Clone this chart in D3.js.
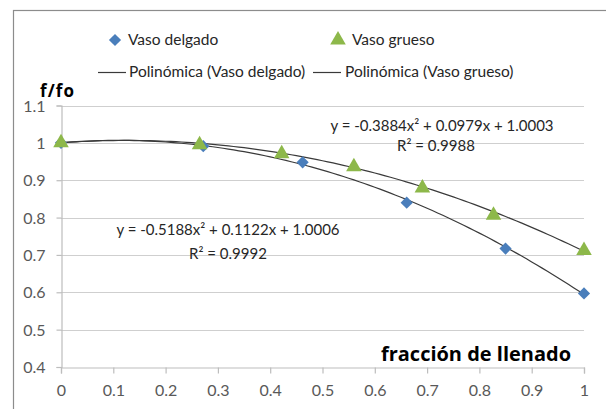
<!DOCTYPE html>
<html>
<head>
<meta charset="utf-8">
<script src="https://cdn.jsdelivr.net/npm/d3@7/dist/d3.min.js"></script>
<style>
  html, body { margin: 0; padding: 0; background: #fff; }
  svg { display: block; font-family: Lato, "Liberation Sans", sans-serif; }
</style>
</head>
<body>
<svg id="chart" width="606" height="409"></svg>
<script>
// Relative frequency f/fo against filling fraction, two vessel thicknesses
const delgadoX = [0, 0.272, 0.462, 0.661, 0.850, 1.0];
const delgadoY = [1.0, 0.991, 0.948, 0.840, 0.717, 0.597];
const gruesoX = [0, 0.265, 0.422, 0.560, 0.691, 0.827, 1.0];
const gruesoY = [1.0, 0.995, 0.971, 0.936, 0.879, 0.806, 0.712];

// Quadratic trendline coefficients [a, b, c] for y = a x^2 + b x + c
const delgadoFit = [-0.5188, 0.1122, 1.0006];
const gruesoFit = [-0.3884, 0.0979, 1.0003];
const delgadoEq = "y = -0.5188x² + 0.1122x + 1.0006";
const delgadoR2 = "R² = 0.9992";
const gruesoEq = "y = -0.3884x² + 0.0979x + 1.0003";
const gruesoR2 = "R² = 0.9988";

const xTicks = [0, 0.1, 0.2, 0.3, 0.4, 0.5, 0.6, 0.7, 0.8, 0.9, 1];
const yTicks = [0.4, 0.5, 0.6, 0.7, 0.8, 0.9, 1, 1.1];
const legendLabels = ["Vaso delgado", "Vaso grueso", "Polinómica (Vaso delgado)", "Polinómica (Vaso grueso)"];
const yTitle = "f/fo";
const xTitle = "fracción de llenado";

const blue = "#4a7ebb";
const green = "#8db84a";

const svg = d3.select("#chart");

// chart frame
svg.append("rect")
  .attr("x", 13.5).attr("y", 10.5).attr("width", 700).attr("height", 500)
  .attr("fill", "#fff").attr("stroke", "#8c8c8c").attr("stroke-width", 1.2);

const x = d3.scaleLinear().domain([0, 1]).range([61, 584]);
const y = d3.scaleLinear().domain([0.4, 1.1]).range([367, 105.5]);

// horizontal gridlines
svg.append("g")
  .selectAll("line")
  .data(yTicks.filter(d => d > 0.4))
  .join("line")
  .attr("x1", x(0)).attr("x2", x(1))
  .attr("y1", d => Math.round(y(d)) + 0.5).attr("y2", d => Math.round(y(d)) + 0.5)
  .attr("stroke", "#cfcfcf").attr("stroke-width", 1.2);

// axes
const fmt = d => String(+d.toFixed(1));
const xAxis = svg.append("g")
  .attr("transform", `translate(0,${Math.round(y(0.4)) + 0.5})`)
  .call(d3.axisBottom(x).tickValues(xTicks).tickSize(6).tickPadding(11).tickFormat(fmt));
const yAxis = svg.append("g")
  .attr("transform", `translate(${Math.round(x(0)) + 0.5},0)`)
  .call(d3.axisLeft(y).tickValues(yTicks).tickSize(5).tickPadding(11).tickFormat(fmt));
[xAxis, yAxis].forEach(g => {
  g.select(".domain").attr("stroke", "#bdbdbd").attr("stroke-width", 1.2);
  g.selectAll(".tick line").attr("stroke", "#bdbdbd").attr("stroke-width", 1.2);
  g.selectAll(".tick text").attr("fill", "#595959")
    .style("font-family", "Lato, sans-serif").style("font-size", "16px");
});
yAxis.selectAll(".tick text").attr("dy", "0.35em");

// trendlines
const poly = (c, t) => c[0] * t * t + c[1] * t + c[2];
const samples = d3.range(0, 1.0001, 0.01);
[delgadoFit, gruesoFit].forEach(c => {
  svg.append("path")
    .attr("d", d3.line().x(t => x(t)).y(t => y(poly(c, t)))(samples))
    .attr("fill", "none").attr("stroke", "#3a3a3a").attr("stroke-width", 1.2);
});

// markers
const diamond = d3.symbol().type(d3.symbolDiamond2).size(95);
const triangle = d3.symbol().type(d3.symbolTriangle).size(105);
svg.append("g").selectAll("path")
  .data(d3.zip(delgadoX, delgadoY))
  .join("path")
  .attr("d", diamond)
  .attr("transform", d => `translate(${x(d[0])},${y(d[1])})`)
  .attr("fill", blue);
svg.append("g").selectAll("path")
  .data(d3.zip(gruesoX, gruesoY))
  .join("path")
  .attr("d", triangle)
  .attr("transform", d => `translate(${x(d[0])},${y(d[1])})`)
  .attr("fill", green);

// trendline equations
const eqStyle = s => s.attr("fill", "#262626").style("font-size", "15px").attr("text-anchor", "middle");
svg.append("text").attr("x", 442).attr("y", 131).text(gruesoEq).call(eqStyle);
svg.append("text").attr("x", 436).attr("y", 151).text(gruesoR2).call(eqStyle);
svg.append("text").attr("x", 228).attr("y", 235).text(delgadoEq).call(eqStyle);
svg.append("text").attr("x", 228).attr("y", 259).text(delgadoR2).call(eqStyle);

// axis titles
svg.append("text").attr("x", 40).attr("y", 97).text(yTitle)
  .attr("textLength", 34)
  .attr("fill", "#000").style("font-family", "'Open Sans', sans-serif")
  .style("font-weight", "bold").style("font-size", "17px");
svg.append("text").attr("x", 381).attr("y", 361).text(xTitle)
  .attr("textLength", 190).attr("lengthAdjust", "spacingAndGlyphs")
  .attr("fill", "#000").style("font-family", "'Open Sans', sans-serif")
  .style("font-weight", "bold").style("font-size", "19px");

// legend
const lg = svg.append("g").style("font-size", "15.5px").attr("fill", "#262626");
lg.append("path").attr("d", diamond).attr("transform", "translate(115,40)").attr("fill", blue);
lg.append("text").attr("x", 128).attr("y", 40).attr("dy", "0.35em").text(legendLabels[0]);
lg.append("path").attr("d", triangle).attr("transform", "translate(338,40)").attr("fill", green);
lg.append("text").attr("x", 352).attr("y", 40).attr("dy", "0.35em").text(legendLabels[1]);
lg.append("line").attr("x1", 98).attr("x2", 126).attr("y1", 72.5).attr("y2", 72.5)
  .attr("stroke", "#3a3a3a").attr("stroke-width", 1.2);
lg.append("text").attr("x", 129).attr("y", 72).attr("dy", "0.35em").text(legendLabels[2]);
lg.append("line").attr("x1", 313).attr("x2", 341).attr("y1", 72.5).attr("y2", 72.5)
  .attr("stroke", "#3a3a3a").attr("stroke-width", 1.2);
lg.append("text").attr("x", 345).attr("y", 72).attr("dy", "0.35em").text(legendLabels[3]);
</script>
</body>
</html>
